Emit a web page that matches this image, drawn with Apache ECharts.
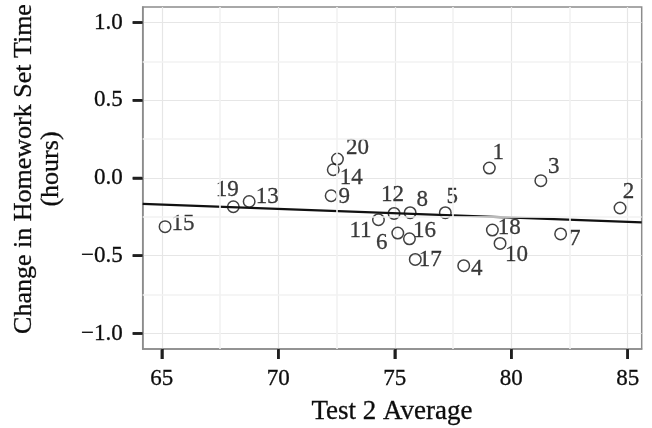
<!DOCTYPE html>
<html>
<head>
<meta charset="utf-8">
<script src="https://cdn.jsdelivr.net/npm/echarts@6/dist/echarts.min.js"></script>
<style>html,body{margin:0;padding:0;background:#fff}#c{width:652px;height:428px}</style>
</head>
<body>
<div id="c"></div>
<script>
// ---- data ----
const pointIds = [1,2,3,4,5,6,7,8,9,10,11,12,13,14,15,16,17,18,19,20];
const test2Avg = [79.06,84.67,81.27,77.96,77.17,75.13,82.12,75.66,72.27,79.52,74.30,74.97,68.75,72.36,65.14,75.63,75.88,79.19,68.07,72.54];
const hwChange = [0.064,-0.193,-0.017,-0.564,-0.223,-0.354,-0.360,-0.223,-0.114,-0.421,-0.268,-0.228,-0.151,0.053,-0.313,-0.391,-0.524,-0.335,-0.185,0.122];
const fitX = [64.18, 85.6];
const fitY = [-0.167, -0.286];
const xRange = [64.18, 85.6];
const yRange = [-1.1, 1.1];
const xTicks = [65,70,75,80,85];
const yTicks = [-1.0,-0.5,0.0,0.5,1.0];
const xMinor = [67.5,72.5,77.5,82.5];
const yMinor = [-0.75,-0.25,0.25,0.75];
const xTitle = 'Test 2 Average';
const yTitle = 'Change in Homework Set Time\n(hours)';

// ---- label placement (layout only) ----
const labelOffsets = {
  1:[9,-15],2:[8.5,-16],3:[13,-13.5],4:[13,3.5],5:[7,-16],6:[-16,10],7:[14,5],8:[12,-13],
  9:[13,1],10:[16.5,12],11:[-18,11],12:[-1.5,-18],13:[18,-5],14:[18,8],15:[18,-3],
  16:[15,-7.5],17:[15,0],18:[17,-2],19:[-6,-17],20:[20,-11]
};

const FONT = 'Liberation Serif';
const TXT = '#0d0d0d';
const TB = { textBorderColor: '#0d0d0d', textBorderWidth: 0.3 };
const TICK_COLOR = '#1f1f1f';
const TICK_LEN = 10;
const fmt = v => Number(v).toFixed(1).replace('-', '\u2212');

const scatterData = pointIds.map((id, i) => ({
  value: [test2Avg[i], hwChange[i], id],
  label: { offset: labelOffsets[id] }
}));

const chart = echarts.init(document.getElementById('c'), null, {renderer: 'canvas'});
chart.setOption({
  animation: false,
  backgroundColor: '#ffffff',
  grid: { left: 142.7, right: 10.3, top: 7, bottom: 79, show: true, borderColor: '#8c8c8c', borderWidth: 1.5, backgroundColor: 'transparent' },
  xAxis: {
    type: 'value', min: xRange[0], max: xRange[1],
    axisLine: { show: true, onZero: false, lineStyle: { color: '#8c8c8c', width: 1.5 } },
    axisTick: { show: true, length: TICK_LEN, customValues: xTicks, lineStyle: { color: TICK_COLOR, width: 2.5 } },
    axisLabel: Object.assign({ customValues: xTicks, margin: 18, fontFamily: FONT, fontSize: 23, color: TXT, formatter: v => String(v) }, TB),
    splitLine: { show: true, lineStyle: { color: '#e6e6e6', width: 1.2 } }
  },
  yAxis: {
    type: 'value', min: yRange[0], max: yRange[1],
    axisLine: { show: true, onZero: false, lineStyle: { color: '#8c8c8c', width: 1.5 } },
    axisTick: { show: true, length: TICK_LEN, customValues: yTicks, lineStyle: { color: TICK_COLOR, width: 2.5 } },
    axisLabel: Object.assign({ customValues: yTicks, margin: 20, fontFamily: FONT, fontSize: 23, color: TXT, formatter: fmt }, TB),
    splitLine: { show: true, lineStyle: { color: '#e6e6e6', width: 1.2 } }
  },
  graphic: [
    { type: 'text', x: 392, y: 412, style: { text: xTitle, fontFamily: FONT, fontSize: 27, fill: TXT, align: 'center', verticalAlign: 'middle', stroke: TXT, lineWidth: 0.3 } },
    { type: 'text', x: 38, y: 169, rotation: Math.PI / 2, style: { text: yTitle, fontFamily: FONT, fontSize: 26, lineHeight: 27, fill: TXT, align: 'center', verticalAlign: 'middle', stroke: TXT, lineWidth: 0.3 } }
  ],
  series: [
    {
      type: 'line', z: -1, data: [], silent: true,
      markLine: {
        silent: true, symbol: ['none', 'none'], label: { show: false }, animation: false,
        lineStyle: { color: '#f2f2f2', width: 1.6, type: 'solid' },
        data: xMinor.map(v => ({ xAxis: v })).concat(yMinor.map(v => ({ yAxis: v })))
      }
    },
    {
      // x-axis tick marks (drawn through the axis scale, outside the panel)
      type: 'custom', silent: true, clip: false, z: 5,
      data: xTicks.map(v => [v, yRange[0]]),
      renderItem: (params, api) => {
        const p = api.coord([api.value(0), api.value(1)]);
        return { type: 'line', shape: { x1: p[0], y1: p[1] + 0.8, x2: p[0], y2: p[1] + TICK_LEN }, style: { stroke: TICK_COLOR, lineWidth: 2.5 } };
      }
    },
    {
      // y-axis tick marks
      type: 'custom', silent: true, clip: false, z: 5,
      data: yTicks.map(v => [xRange[0], v]),
      renderItem: (params, api) => {
        const p = api.coord([api.value(0), api.value(1)]);
        return { type: 'line', shape: { x1: p[0] - 0.8, y1: p[1], x2: p[0] - TICK_LEN, y2: p[1] }, style: { stroke: TICK_COLOR, lineWidth: 2.5 } };
      }
    },
    {
      type: 'line', data: fitX.map((x, i) => [x, fitY[i]]), symbol: 'none',
      lineStyle: { color: '#111', width: 2.2 }, silent: true, z: 3
    },
    {
      type: 'scatter', data: scatterData, symbol: 'circle', symbolSize: 11.5, z: 4,
      itemStyle: { color: 'rgba(255,255,255,0)', borderColor: '#111', borderWidth: 1.5 },
      label: Object.assign({
        show: true, position: 'inside', formatter: p => String(p.value[2]),
        fontFamily: FONT, fontSize: 23, color: TXT, align: 'center', verticalAlign: 'middle'
      }, TB)
    }
  ]
});
</script>
</body>
</html>
